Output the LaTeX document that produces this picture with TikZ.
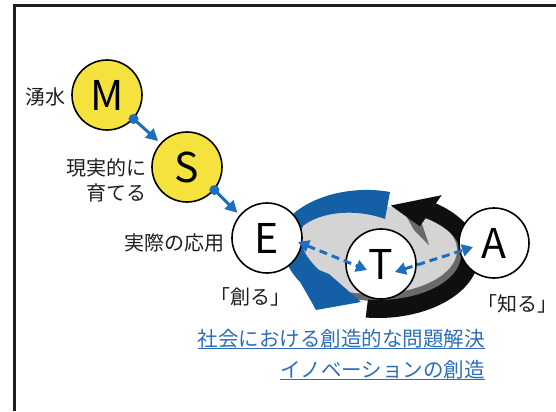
\documentclass[tikz,border=0pt]{standalone}
\usepackage{fontspec}
\setmainfont{Noto Sans CJK JP}
\usetikzlibrary{arrows.meta,calc}
\definecolor{yel}{RGB}{245,226,60}
\definecolor{arrblue}{RGB}{30,110,190}
\definecolor{bandblue}{RGB}{20,95,165}
\definecolor{txtblue}{RGB}{45,110,185}
\definecolor{lgray}{RGB}{212,212,212}
\definecolor{dgray}{RGB}{105,105,105}
\definecolor{bandblack}{RGB}{15,15,15}
\definecolor{txtc}{RGB}{30,30,30}
\definecolor{framec}{RGB}{30,30,30}
\begin{document}
\begin{tikzpicture}[x=1bp,y=-1bp,
  circ/.style={circle, draw=black, line width=1.6bp, minimum size=70bp, inner sep=0pt,
    font=\fontsize{41bp}{41bp}\selectfont},
  lbl/.style={inner sep=0pt, text=txtc, font=\fontsize{20bp}{25bp}\selectfont},
  bluetxt/.style={inner sep=0pt, text=txtblue, font=\fontsize{20.5bp}{25bp}\selectfont},
  uline/.style={draw=txtblue, line width=1.3bp},
  flowarr/.style={draw=arrblue, line width=3bp, -{Triangle[length=12bp,width=12bp]}},
  flowdot/.style={fill=arrblue},
  dasharr/.style={draw=arrblue, line width=3bp, dash pattern=on 8bp off 5bp,
    {Triangle[length=11bp,width=12bp]}-{Triangle[length=11bp,width=12bp]}}]
\useasboundingbox (0,0) rectangle (556,411);
% frame
\draw[line width=2.5bp, draw=framec] (14.5,411) -- (14.5,5.5) -- (556,5.5);

% disc
\fill[dgray] (378,255) ellipse [x radius=85, y radius=46];
\fill[lgray] (373,250) ellipse [x radius=84, y radius=44];
\fill[dgray] (405,214) -- (422,224) -- (429,245) -- (414,230) -- cycle;

% blue band arrow (top -> left -> bottom)
\fill[bandblue] (390,192) .. controls (352,185) and (308,196) .. (287,220)
  .. controls (276,240) and (284,266) .. (300,282)
  .. controls (306,292) and (311,301) .. (316,310)
  -- (361,302) -- (329,274) -- (319,270)
  .. controls (304,256) and (296,240) .. (303,226)
  .. controls (320,212) and (355,208) .. (385,219) -- cycle;

% black band arrow (bottom -> right -> top)
\fill[bandblack] plot[domain=97:-55, samples=60] ({378+101*cos(\x)},{255+63*sin(\x)})
  -- ({378+111*cos(-55)},{255+73*sin(-55)})
  -- ({378+92*cos(-82)},{255+50*sin(-82)})
  -- ({378+73*cos(-55)},{255+35*sin(-55)})
  -- plot[domain=-55:97, samples=60] ({378+83*cos(\x)},{255+45*sin(\x)}) -- cycle;

% circles
\node[circ, fill=yel] (M) at (107,95) {M};
\node[circ, fill=yel] (S) at (187,167) {S};
\node[circ, fill=white] (E) at (267,238) {E};
\node[circ, fill=white] (T) at (381,264) {T};
\node[circ, fill=white] (A) at (494,243) {A};

% labels
\node[lbl, anchor=east] (lm) at ($(M.west)+(-6,2)$) {湧水};
\node[lbl, anchor=east, align=right] (ls) at (147,180.5) {現実的に\\育てる};
\node[lbl, anchor=east] (le) at (225,243) {実際の応用};
\node[lbl] (lc) at (250,297) {「創る」};
\node[lbl] (lk) at (517,304) {「知る」};

% blue texts
\node[bluetxt, anchor=east] (b1) at (485,339) {社会における創造的な問題解決};
\node[bluetxt, anchor=east] (b2) at (485,370) {イノベーションの創造};
\draw[uline] ($(b1.base west)+(0,2)$) -- ($(b1.base east)+(0,2)$);
\draw[uline] ($(b2.base west)+(0,2)$) -- ($(b2.base east)+(0,2)$);

% flow arrows
\draw[flowarr, shorten >=3bp] (M.-42) -- (S.138);
\fill[flowdot] (M.-42) circle (5);
\draw[flowarr, shorten >=3bp] (S.-40) -- (E.140);
\fill[flowdot] (S.-40) circle (5);

% dashed double arrows
\draw[dasharr] ($(E)+(31,4)$) -- ($(T)+(-14,6)$);
\draw[dasharr] ($(T)+(14,8)$) -- ($(A)+(-21,4)$);
\end{tikzpicture}
\end{document}
